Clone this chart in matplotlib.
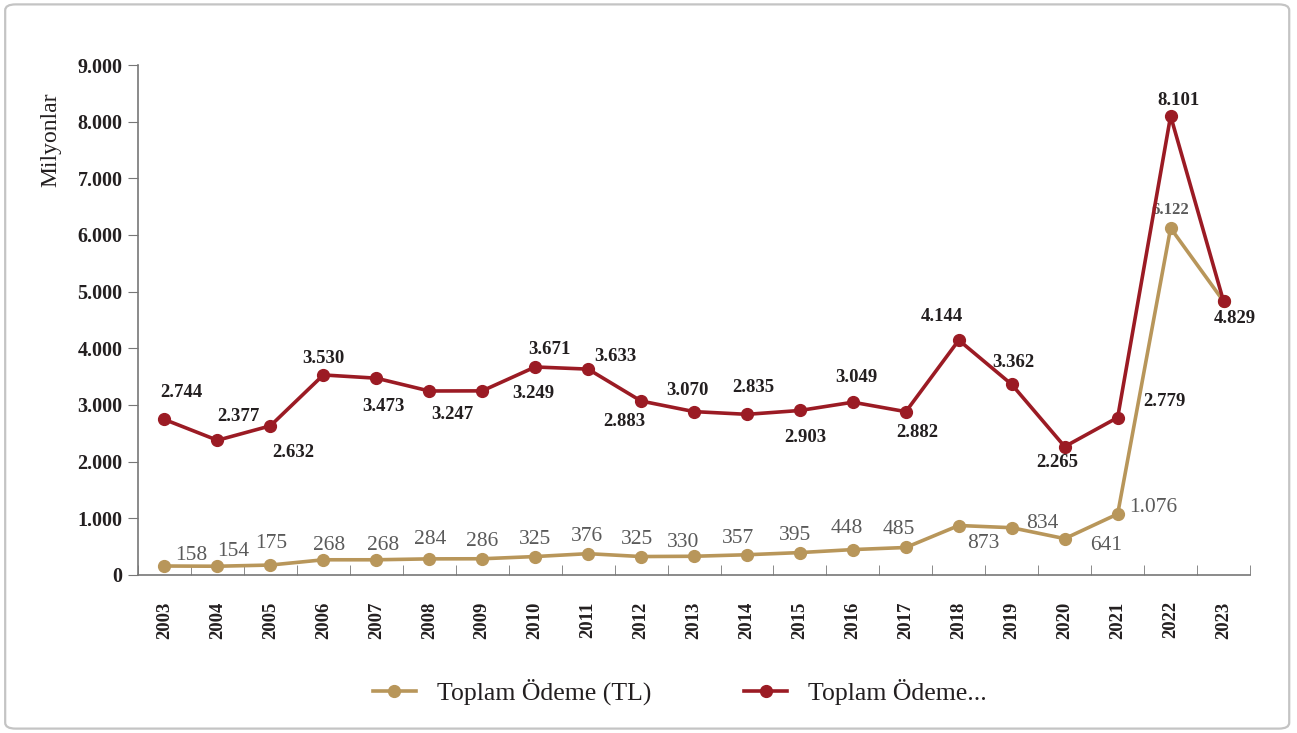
import numpy as np
import matplotlib.pyplot as plt
from matplotlib.patches import FancyBboxPatch

years = [str(y) for y in range(2003, 2024)]
tl = [158, 154, 175, 268, 268, 284, 286, 325, 376, 325, 330, 357, 395, 448, 485,
      873, 834, 641, 1076, 6122, 4829]
other = [2744, 2377, 2632, 3530, 3473, 3247, 3249, 3671, 3633, 3070, 2883, 2835,
         2903, 3049, 2882, 4144, 3362, 2265, 2779, 8101, 4829]
# label text as printed on the chart (the source places some of them oddly)
tl_labels = ['158', '154', '175', '268', '268', '284', '286', '325', '376', '325', '330',
             '357', '395', '448', '485', '873', '834', '641', '1.076', '6.122', None]
other_labels = ['2.744', '2.377', '2.632', '3.530', '3.473', '3.247', '3.249', '3.671',
                '3.633', '2.883', '3.070', '2.835', '2.903', '3.049', '2.882', '4.144',
                '3.362', '2.265', '2.779', '8.101', '4.829']

# label offsets in pixels (dx right, dy up)
tl_off = [(27, 11), (16, 15), (1, 22), (6, 14), (7, 14), (1, 19), (0, 17), (0, 17),
          (-1, 17), (-4, 17), (-11, 14), (-9, 16), (-5, 17), (-6, 21), (-7, 18),
          (25, -18), (31, 4), (41, -7), (36, 6), (0, 18), (0, 0)]
other_off = [(17, 27), (21, 24), (23, -27), (0, 16), (7, -28), (23, -24), (51, -3),
             (14, 17), (27, 13), (-17, -20), (-7, 21), (6, 27), (5, -27), (3, 25),
             (11, -21), (-17, 24), (2, 22), (-7, -16), (47, 16), (8, 15), (11, -17)]

tan = '#b8965a'
red = '#9b1b24'
plt.rcParams['font.family'] = ['Liberation Serif', 'DejaVu Serif']

fig = plt.figure(figsize=(12.97, 7.33), dpi=100)
fig.patches.append(FancyBboxPatch((0.004, 0.006), 0.99, 0.988, boxstyle='round,pad=0,rounding_size=0.008',
                                  transform=fig.transFigure, facecolor='white',
                                  edgecolor='#c4c4c4', linewidth=1.6, zorder=-10))
ax = fig.add_axes([0.1064, 0.2156, 0.8574, 0.6957])
ax.patch.set_alpha(0)

x = np.arange(len(years))
ax.plot(x, tl, color=tan, lw=2.6, marker='o', ms=8.5, label='Toplam Ödeme (TL)', zorder=3)
ax.plot(x, other, color=red, lw=2.6, marker='o', ms=8.5, label='Toplam Ödeme...', zorder=4)

for i in x:
    if tl_labels[i]:
        small = tl_labels[i] == '6.122'
        ax.annotate(tl_labels[i], (i, tl[i]), xytext=tl_off[i], textcoords='offset pixels',
                    ha='center', va='center', color='#5a5a5a',
                    fontsize=12 if small else 15.5, fontweight='bold' if small else 'normal')
    ax.annotate(other_labels[i], (i, other[i]), xytext=other_off[i], textcoords='offset pixels',
                ha='center', va='center', color='#231f20', fontsize=13.5, fontweight='bold')

ax.set_xlim(-0.5, len(years) - 0.5)
ax.set_ylim(0, 9000)
ax.set_yticks(np.arange(0, 9001, 1000))
ax.set_yticklabels(['0'] + [f'{v // 1000}.000' for v in range(1000, 9001, 1000)],
                   fontweight='bold', fontsize=14.5, color='#231f20')
ax.set_xticks(x)
ax.set_xticklabels(years, rotation=90, fontweight='bold', fontsize=13.5, color='#231f20')
ax.tick_params(axis='x', length=0, pad=19)
ax.set_xticks(np.arange(-0.5, len(years), 1), minor=True)
ax.tick_params(axis='x', which='minor', direction='in', length=7, color='#777777')
ax.tick_params(axis='y', length=7, color='#777777', pad=4)
for s in ['top', 'right']:
    ax.spines[s].set_visible(False)
for s in ['left', 'bottom']:
    ax.spines[s].set_color('#777777')
    ax.spines[s].set_linewidth(1.2)
ax.set_ylabel('Milyonlar', fontsize=17, color='#231f20')
ax.yaxis.set_label_coords(-0.069, 0.853)

fig.legend(loc='center', bbox_to_anchor=(0.524, 0.056), ncol=2, frameon=False,
           fontsize=18.5, handlelength=1.7, columnspacing=3.6, handletextpad=0.8,
           labelcolor='#231f20')

fig.savefig('out.png', dpi=100)
